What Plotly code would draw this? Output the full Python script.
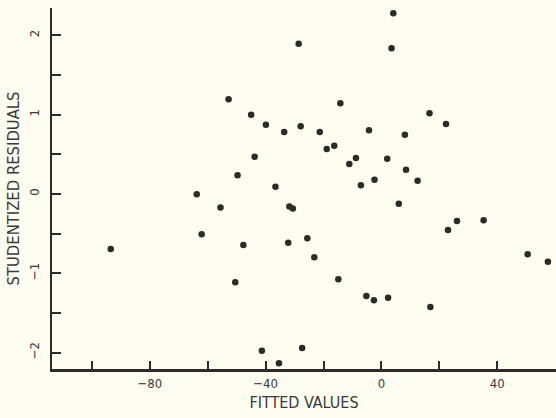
import plotly.graph_objects as go

# Fitted values and studentized residuals of the regression
fitted = [
    -28.6, -52.8, -45.0, -39.9, -33.6, -27.9, -21.3, -18.9, -16.3, -43.8,
    -49.7, -36.6, 4.1, 3.5, -14.2, 16.6, -4.3, 8.1, -8.8, -11.1,
    2.0, 8.5, 12.5, -2.4, -7.1, 22.3, -93.5, -63.8, -62.1, -55.6,
    -31.8, -30.6, -47.7, -32.2, -25.6, -23.2, -50.5, -41.3, -27.4, -35.4,
    6.0, -14.9, -5.2, -2.6, 2.3, 16.9, 23.0, 26.1, 35.3, 50.5,
    57.5,
]
residuals = [
    1.895, 1.194, 1.000, 0.874, 0.782, 0.854, 0.782, 0.567, 0.609, 0.470,
    0.236, 0.092, 2.279, 1.837, 1.144, 1.018, 0.803, 0.748, 0.454, 0.378,
    0.445, 0.306, 0.168, 0.179, 0.110, 0.883, -0.694, -0.004, -0.508, -0.170,
    -0.158, -0.183, -0.643, -0.614, -0.559, -0.798, -1.113, -1.976, -1.942, -2.135,
    -0.122, -1.076, -1.286, -1.340, -1.308, -1.425, -0.454, -0.340, -0.332, -0.760,
    -0.854,
]

x_ticks = [-80, -40, 0, 40]
x_tick_text = ["\u221280", "\u221240", "0", "40"]
y_ticks = [-2, -1, 0, 1, 2]
y_tick_text = ["\u22122", "\u22121", "0", "1", "2"]

ink = "#2b2b2b"
paper = "#fcfcf1"
font_family = "Liberation Sans Narrow, DejaVu Sans Condensed, Arial Narrow, sans-serif"

fig = go.Figure(
    go.Scatter(
        x=fitted,
        y=residuals,
        mode="markers",
        marker=dict(size=6.5, color=ink, line=dict(width=0)),
        hoverinfo="skip",
    )
)

fig.update_layout(
    width=556,
    height=418,
    margin=dict(l=52, r=0, t=8, b=49),
    paper_bgcolor=paper,
    plot_bgcolor=paper,
    showlegend=False,
    font=dict(family=font_family, color="#3a3a3a", size=13),
)

fig.update_xaxes(
    range=[-113.8, 60.3],
    tickmode="array",
    tickvals=x_ticks,
    ticktext=x_tick_text,
    ticks="inside",
    ticklen=8,
    tickwidth=1.5,
    tickcolor=ink,
    minor=dict(dtick=20, tick0=0, ticks="inside", ticklen=8, tickwidth=1.5, tickcolor=ink),
    showline=True,
    linewidth=3,
    linecolor=ink,
    showgrid=False,
    zeroline=False,
    tickfont=dict(size=13),
    title=dict(text="FITTED VALUES", font=dict(size=16), standoff=8),
)

fig.update_yaxes(
    range=[-2.207, 2.345],
    tickmode="array",
    tickvals=y_ticks,
    ticktext=y_tick_text,
    tickangle=-90,
    ticks="inside",
    ticklen=9,
    tickwidth=1.5,
    tickcolor=ink,
    minor=dict(dtick=0.5, tick0=0, ticks="inside", ticklen=9, tickwidth=1.5, tickcolor=ink),
    showline=True,
    linewidth=2,
    linecolor=ink,
    showgrid=False,
    zeroline=False,
    tickfont=dict(size=13),
    ticklabelstandoff=6,
    title=dict(text="STUDENTIZED RESIDUALS", font=dict(size=16.5), standoff=3),
)

fig.write_html("out.html")
